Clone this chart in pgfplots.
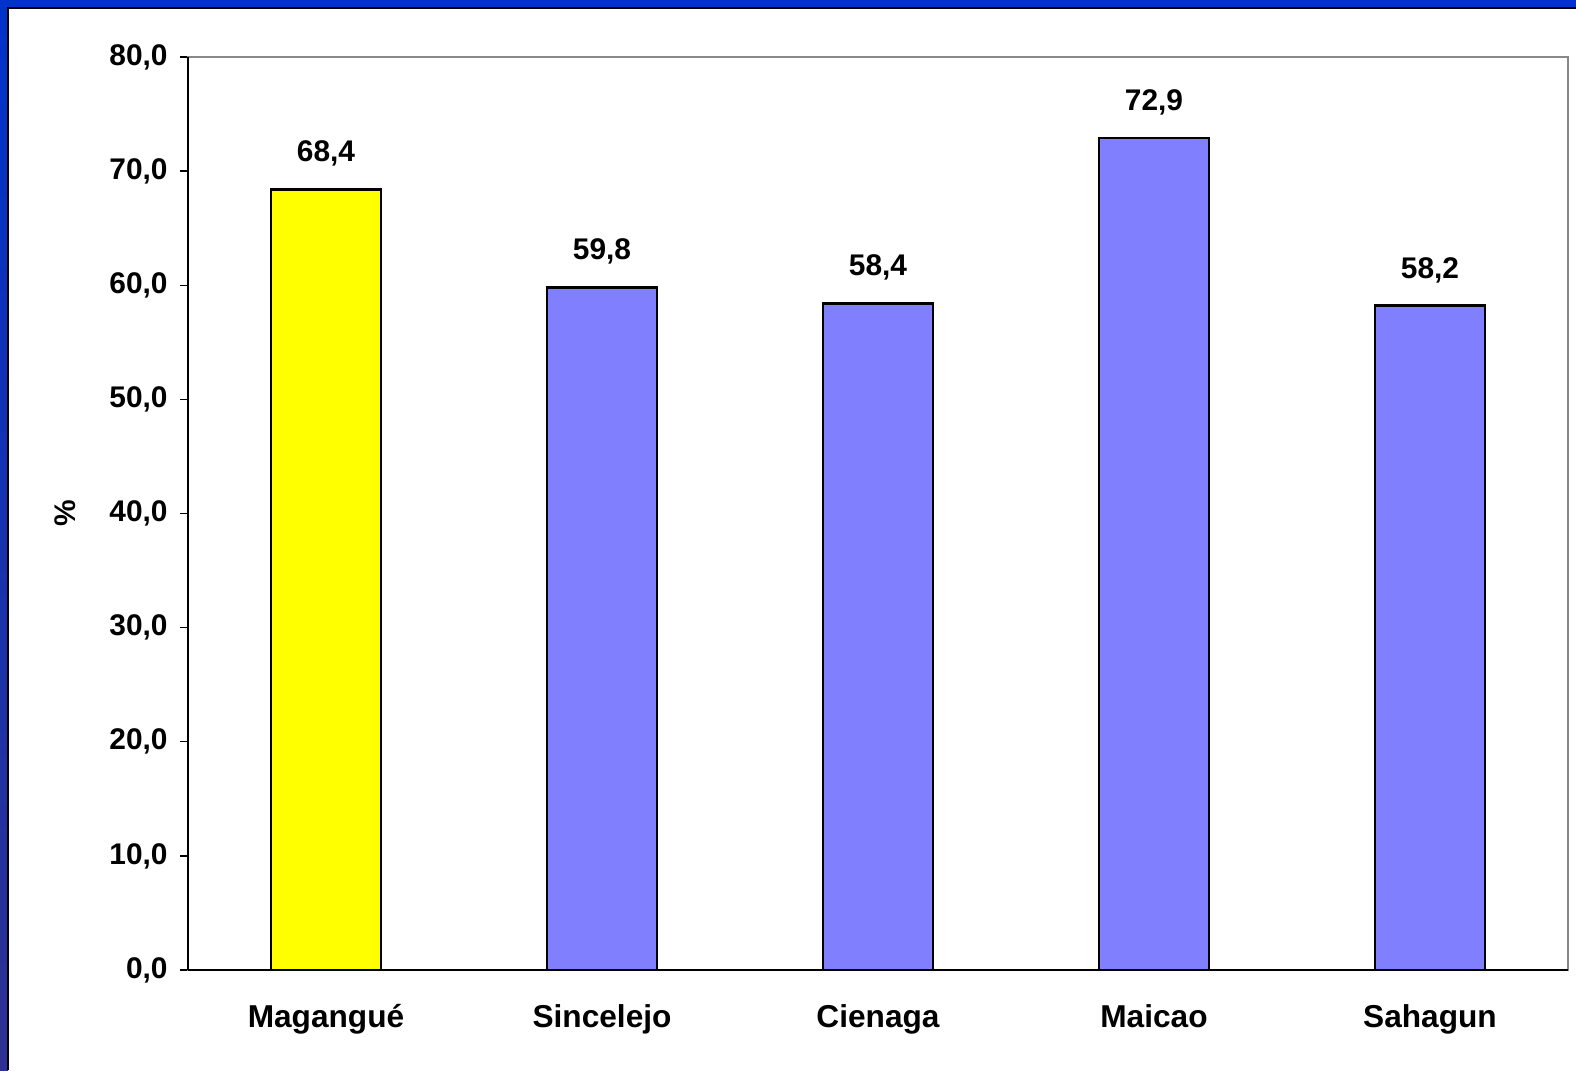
\documentclass[border=0pt]{standalone}
\usepackage{pgfplots}
\pgfplotsset{compat=1.18}
\usepackage{fontspec}
\setmainfont{Liberation Sans}
\definecolor{frameblue}{HTML}{0033CC}
\definecolor{framenavy}{HTML}{2E3192}
\definecolor{baryellow}{HTML}{FFFF00}
\definecolor{barblue}{HTML}{8080FF}
\definecolor{boxgray}{HTML}{888888}
\begin{document}
\begin{tikzpicture}[x=1cm,y=1cm]
\useasboundingbox (0,0) rectangle (15.76,10.70);
% frame
\fill[frameblue] (0,10.62) rectangle (15.76,10.70);
\shade[top color=frameblue, bottom color=framenavy] (0,0) rectangle (0.08,10.70);
\fill[white] (0.08,0) rectangle (15.76,10.62);
\draw[black, line width=0.4pt] (0.08,0) -- (0.08,10.62) -- (15.76,10.62);
\begin{axis}[
  at={(1.88cm,1.0cm)}, anchor=south west,
  scale only axis, width=13.80cm, height=9.13cm,
  xmin=-0.5, xmax=4.5, ymin=0, ymax=80,
  ybar, bar width=1.1cm, bar shift=0pt,
  axis line style={draw=boxgray, line width=0.75pt},
  xtick={0,1,2,3,4},
  xticklabels={Magangué, Sincelejo, Cienaga, Maicao, Sahagun},
  major x tick style={draw=none},
  extra x ticks={-0.5,0.5,1.5,2.5,3.5,4.5},
  extra x tick labels={},
  extra x tick style={major tick length=0.1cm, tick style={draw=black, line width=0.4pt}},
  ytick={0,10,...,80},
  ytick pos=left, xtick pos=bottom,
  tick align=outside,
  major tick length=0.08cm,
  y tick style={draw=black, line width=0.4pt},
  yticklabel style={font=\fontsize{8.5}{10}\selectfont\bfseries, /pgf/number format/.cd, fixed, fixed zerofill, precision=1, use comma},
  /pgf/number format/assume math mode=true,
  xticklabel style={font=\fontsize{9}{11}\selectfont\bfseries, yshift=-1.4mm},
  ylabel={\%},
  ylabel style={font=\fontsize{8.5}{10}\selectfont\bfseries, at={(axis description cs:-0.072,0.5)}},
  nodes near coords,
  every node near coord/.append style={font=\fontsize{8.5}{10}\selectfont\bfseries, yshift=1mm, /pgf/number format/.cd, fixed, fixed zerofill, precision=1, use comma},
  after end axis/.code={
    \draw[black, line width=0.4pt] (rel axis cs:0,0) -- (rel axis cs:0,1);
    \draw[black, line width=0.4pt] (rel axis cs:0,0) -- (rel axis cs:1,0);
  },
]
\addplot[fill=baryellow, draw=black, line width=0.8pt] coordinates {(0,68.4)};
\addplot[fill=barblue, draw=black, line width=0.8pt] coordinates {(1,59.8) (2,58.4) (3,72.9) (4,58.2)};
\end{axis}
\end{tikzpicture}
\end{document}
